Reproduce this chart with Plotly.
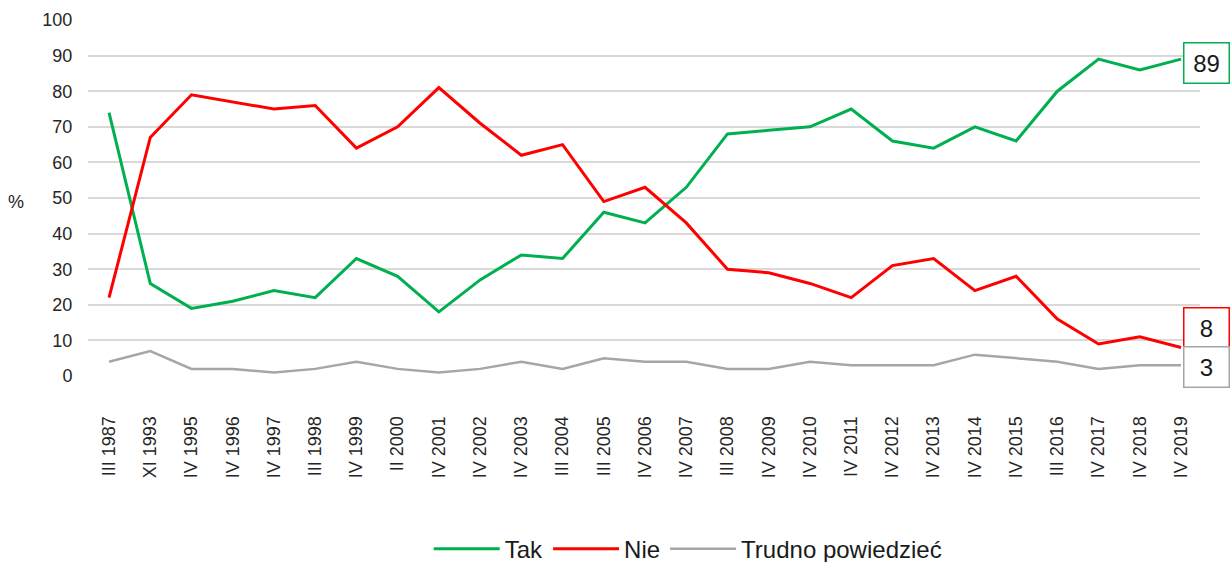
import plotly.graph_objects as go

categories = ["III 1987", "XI 1993", "IV 1995", "IV 1996", "IV 1997", "III 1998", "IV 1999",
              "II 2000", "IV 2001", "IV 2002", "IV 2003", "III 2004", "III 2005", "IV 2006",
              "IV 2007", "III 2008", "IV 2009", "IV 2010", "IV 2011", "IV 2012", "IV 2013",
              "IV 2014", "IV 2015", "III 2016", "IV 2017", "IV 2018", "IV 2019"]
tak = [74, 26, 19, 21, 24, 22, 33, 28, 18, 27, 34, 33, 46, 43, 53, 68, 69, 70, 75, 66, 64,
       70, 66, 80, 89, 86, 89]
nie = [22, 67, 79, 77, 75, 76, 64, 70, 81, 71, 62, 65, 49, 53, 43, 30, 29, 26, 22, 31, 33,
       24, 28, 16, 9, 11, 8]
trudno = [4, 7, 2, 2, 1, 2, 4, 2, 1, 2, 4, 2, 5, 4, 4, 2, 2, 4, 3, 3, 3, 6, 5, 4, 2, 3, 3]
y_ticks = [0, 10, 20, 30, 40, 50, 60, 70, 80, 90, 100]

GREEN = "#00B050"
RED = "#FF0000"
GRAY = "#A6A6A6"
FONT = "Liberation Sans, Arial, sans-serif"

fig = go.Figure()
fig.add_trace(go.Scatter(x=categories, y=tak, name="Tak", mode="lines",
                         line=dict(color=GREEN, width=3)))
fig.add_trace(go.Scatter(x=categories, y=nie, name="Nie", mode="lines",
                         line=dict(color=RED, width=3)))
fig.add_trace(go.Scatter(x=categories, y=trudno, name="Trudno powiedzieć", mode="lines",
                         line=dict(color=GRAY, width=2.5)))

# end labels
labels = [(tak[-1], GREEN, -4), (nie[-1], RED, 20), (trudno[-1], GRAY, -2)]
for val, col, ys in labels:
    fig.add_annotation(x=categories[-1], y=val, xref="x", yref="y", text=str(val),
                       showarrow=False, xanchor="left", yanchor="middle", xshift=2, yshift=ys,
                       font=dict(family=FONT, size=24, color="#1a1a1a"),
                       bgcolor="white", bordercolor=col, borderwidth=1.5, borderpad=6,
                       width=32, height=27, align="center")

fig.add_annotation(text="%", xref="paper", yref="paper", x=-0.0643, y=0.49,
                   xanchor="center", yanchor="middle", showarrow=False,
                   font=dict(family=FONT, size=18, color="#262626"))

fig.update_layout(
    width=1232, height=562,
    margin=dict(l=88, r=32, t=20, b=186),
    paper_bgcolor="white", plot_bgcolor="white",
    font=dict(family=FONT, color="#262626"),
    showlegend=True,
    legend=dict(orientation="h", xref="container", yref="container",
                x=0.348, xanchor="left", y=0.023, yanchor="middle",
                font=dict(family=FONT, size=24, color="#1a1a1a"),
                itemwidth=66, tracegroupgap=0),
    xaxis=dict(type="category", range=[-0.51, 26.46], showgrid=False, showline=False,
               zeroline=False, tickangle=-90, ticks="outside", ticklen=32, automargin=False,
               tickcolor="rgba(0,0,0,0)", tickfont=dict(family=FONT, size=18, color="#262626")),
    yaxis=dict(range=[0, 100], tickvals=y_ticks, showgrid=True, gridcolor="#D9D9D9",
               gridwidth=1.5, zeroline=False, showline=False, ticks="outside", ticklen=11,
               automargin=False,
               tickcolor="rgba(0,0,0,0)", tickfont=dict(family=FONT, size=18, color="#262626")),
)

fig.write_html("out.html", config={"displayModeBar": False},
               post_script="document.body.style.margin='0';document.body.style.overflow='hidden';")
